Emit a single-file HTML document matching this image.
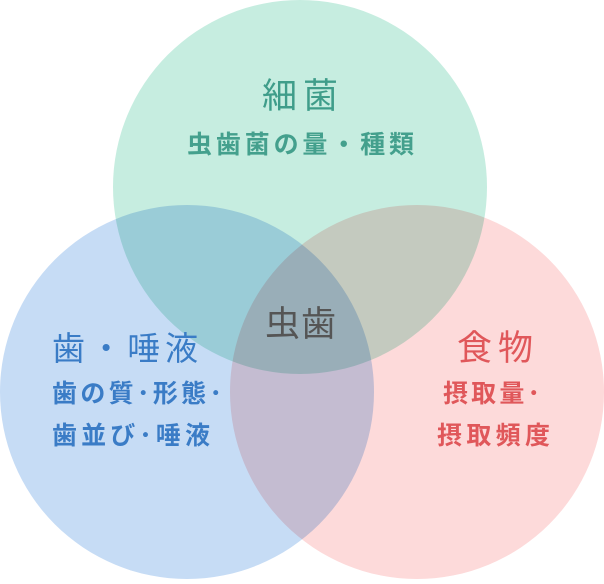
<!DOCTYPE html>
<html><head><meta charset="utf-8"><style>
body{margin:0;width:604px;height:579px;overflow:hidden;background:#fff}
svg text{font-family:"Liberation Sans","Noto Sans CJK JP",sans-serif}
</style></head><body>
<svg width="604" height="579" viewBox="0 0 604 579">
<g style="isolation:isolate">
<circle cx="300" cy="187" r="187" fill="#c6ede0" style="mix-blend-mode:multiply"/>
<circle cx="187" cy="392" r="187" fill="#c6dcf5" style="mix-blend-mode:multiply"/>
<circle cx="417" cy="392" r="187" fill="#fddada" style="mix-blend-mode:multiply"/>
</g>
<text x="262" y="108" font-size="35" fill="#3f9d8a" textLength="76" lengthAdjust="spacing">細菌</text>
<text x="187" y="153" font-size="25" font-weight="bold" fill="#44a08d" textLength="227" lengthAdjust="spacing">虫歯菌の量・種類</text>
<text x="265" y="336" font-size="35" fill="#555" textLength="71" lengthAdjust="spacing">虫歯</text>
<text x="52" y="360" font-size="33" fill="#3a7cc6" textLength="146" lengthAdjust="spacing">歯・唾液</text>
<text x="52" y="402" font-size="25" font-weight="bold" fill="#3a7cc6" textLength="170" lengthAdjust="spacing">歯の質･形態･</text>
<text x="52" y="444" font-size="25" font-weight="bold" fill="#3a7cc6" textLength="158" lengthAdjust="spacing">歯並び･唾液</text>
<text x="457" y="360" font-size="35" fill="#e0575a" textLength="76" lengthAdjust="spacing">食物</text>
<text x="443" y="402" font-size="25" font-weight="bold" fill="#e0575a" textLength="97" lengthAdjust="spacing">摂取量･</text>
<text x="437" y="444" font-size="25" font-weight="bold" fill="#e0575a" textLength="113" lengthAdjust="spacing">摂取頻度</text>
</svg>
</body></html>
